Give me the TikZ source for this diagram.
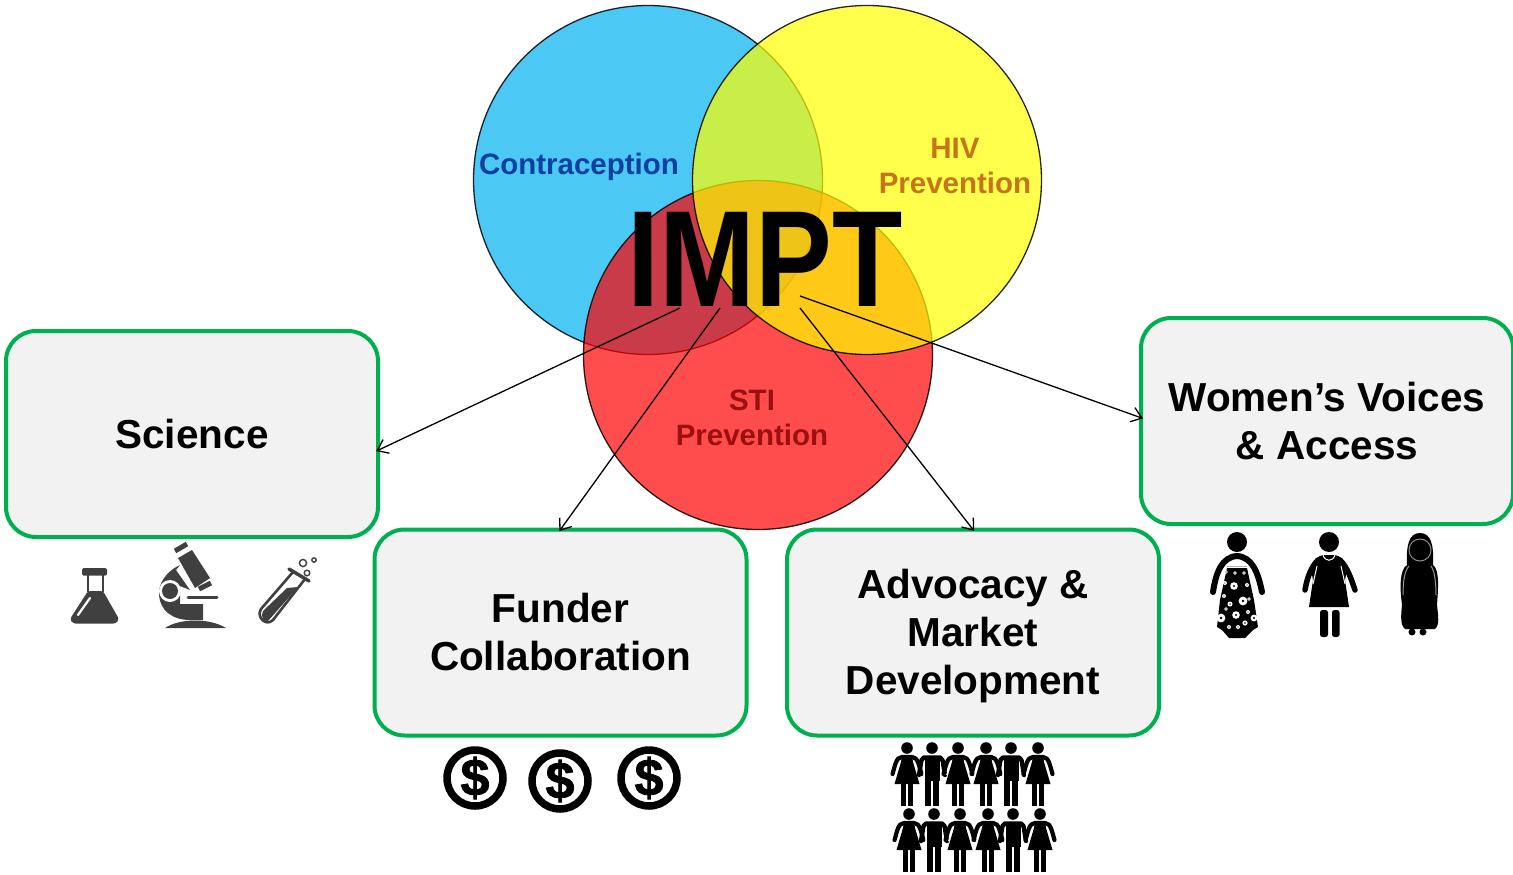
\documentclass[tikz,border=0pt]{standalone}
\usepackage{fontspec}
\setmainfont{Liberation Sans}
\usetikzlibrary{calc,arrows.meta}
\definecolor{cblue}{HTML}{00B0F0}
\definecolor{cyel}{HTML}{FFFF00}
\definecolor{cred}{HTML}{FF0000}
\definecolor{cgreen}{HTML}{00B050}
\definecolor{cbox}{HTML}{F2F2F2}
\definecolor{cicon}{HTML}{404040}
\definecolor{tblue}{HTML}{0F3F9F}
\definecolor{torange}{HTML}{C8741A}
\definecolor{tred}{HTML}{9C1010}
\tikzset{
  venn/.style={circle,minimum size=349pt,inner sep=0pt,outer sep=0pt,draw=black,line width=1.3pt,fill opacity=.7,draw opacity=.85},
  stage/.style={draw=cgreen,line width=4pt,fill=cbox,rounded corners=30pt,minimum width=372pt,minimum height=206pt,inner sep=0pt,outer sep=0pt,align=center,font=\fontsize{40.5}{48}\selectfont\bfseries},
  venntext/.style={font=\fontsize{29.5}{35}\selectfont\bfseries,align=center,inner sep=0pt},
  link/.style={draw=black,line width=1.3pt,shorten >=-2pt,-{Straight Barb[length=10pt,width=15pt]}},
  dollar/.style={circle,draw=black,line width=7.5pt,minimum size=56pt,inner sep=0pt,fill=white,font=\fontsize{52}{52}\selectfont\bfseries},
}
\newcommand{\heavy}[1]{{\addfontfeature{FakeBold=1.5}#1}}
\newcommand{\crowdwoman}[2]{\begin{scope}[shift={(#1,#2)}]
  \fill (0,0) circle (5.8);
  \draw[line width=4.2pt,line cap=round,line join=round] (-14.5,26)..controls (-12,18) and (-11,9)..(-5,9)--(5,9)..controls (11,9) and (12,18)..(14.5,26);
  \draw[white,line width=.9pt] (-6.5,14)--(-11.5,27) (6.5,14)--(11.5,27);
  \fill (-5,8)--(5,8)--(6,14)--(12.5,36)--(-12.5,36)--(-6,14)--cycle;
  \fill (-6,34) rectangle (-1,58);\fill (1,34) rectangle (6,58);
\end{scope}}
\newcommand{\crowdman}[2]{\begin{scope}[shift={(#1,#2)}]
  \fill (0,0) circle (5.8);
  \draw[line width=4.4pt,line cap=round,line join=round] (-13,27)--(-10.5,12)--(-8,9.5)--(8,9.5)--(10.5,12)--(13,27);
  \draw[white,line width=.9pt] (-7.8,14)--(-8.2,32) (7.8,14)--(8.2,32);
  \fill (-7.5,8)--(7.5,8)--(7.5,33)--(-7.5,33)--cycle;
  \fill (-7,30) rectangle (-1,58);\fill (1,30) rectangle (7,58);
\end{scope}}
\newcommand{\crowdrow}[1]{\begin{scope}[shift={(#1)}]
  \crowdwoman{907}{748}\crowdman{932}{748}\crowdwoman{958}{748}\crowdwoman{986}{748}\crowdman{1011}{748}\crowdwoman{1038}{748}
\end{scope}}
\begin{document}
\begin{tikzpicture}[x=1pt,y=-1pt]
\useasboundingbox (0,0) rectangle (1513,875);
% Venn
\node[venn,fill=cblue] (blue) at (648,180) {};
\node[venn,fill=cred] (redc) at (758,355) {};
\node[venn,fill=cyel] (yel) at (867,180) {};
\node[inner sep=0pt] (impt) at (765,259) {\scalebox{.84}[1]{\fontsize{137}{137}\selectfont\bfseries IMPT}};
\node[venntext,text=tblue] (t1) at (579,167) {Contraception};
\node[venntext,text=torange] (t2) at (955,166) {HIV\\Prevention};
\node[venntext,text=tred] (t3) at (752,418) {STI\\Prevention};
% boxes
\node[stage] (science) at (192,434) {Science};
\node[stage] (funder) at (560.5,632.5) {Funder\\Collaboration};
\node[stage] (advocacy) at (973,632.5) {\rule{0pt}{36pt}Advocacy \&\\Market\\Development};
\node[stage] (women) at (1327,421) {Women’s Voices\\\& Access};
% connectors
\coordinate (s1) at (680,308);
\coordinate (s2) at (720,308);
\coordinate (s3) at (800,308);
\coordinate (s4) at (800,296);
\draw[link] (s1) -- (science.-5);
\draw[link] (s2) -- (funder.north);
\draw[link] (s3) -- (advocacy.north);
\draw[link] (s4) -- (women.179);
% flask
\fill[cicon,rounded corners=1.5pt] (82,568) rectangle (107,575.5);
\draw[cicon,line width=2pt] (88,575)--(88,592) (103,575)--(103,592);
\fill[cicon,rounded corners=2.5pt] (88,591)--(103,591)--(119,619)--(116,623.5)--(73,623.5)--(70,619)--cycle;
\draw[white,line width=2.2pt,line cap=round] (90,598)--(78,615);
% microscope
\draw[cicon,line width=5pt] (175,551)--(187,544);
\fill[cicon] (178,558)--(192,550)--(210,578)--(195,588)--cycle;
\draw[cicon,line width=5pt] (199,589)--(211,583);
\fill[cicon] (180,565)..controls (165,572) and (158,585)..(159,595)..controls (160,610) and (172,620)..(190,620)--(203,620)--(203,604)--(180,604)--(180,586)--(190,590)--(176,570)--cycle;
\fill[white] (170,591) circle (11);
\fill[cicon] (170,591) circle (8);
\draw[white,line width=2pt] (181,596)--(218,596);
\draw[cicon,line width=3pt,line cap=round] (188,597.5)--(217,597.5);
\fill[cicon] (165,628) .. controls (180,618) and (210,618) .. (226,628) -- cycle;
% tube
\draw[cicon,line width=3.5pt,line cap=round] (289,569)--(309,581);
\draw[cicon,line width=2.6pt,line join=round] (293,572)--(261,609) .. controls (256,617) and (266,627) .. (273,620)--(305,579);
\fill[cicon] (287,588)--(298,587)--(268,621)..controls (264,622) and (260,617) ..(263,611)--cycle;
\draw[cicon,line width=1.4pt] (303,563) circle (3.6) (314,560) circle (2.2);
\draw[cicon,line width=1.4pt] (307,573) circle (2.8);
% dollars
\node[dollar] (d1) at (475,778) {\heavy{\$}};
\node[dollar] (d2) at (560,781) {\heavy{\$}};
\node[dollar] (d3) at (649,778) {\heavy{\$}};
% crowd
\crowdrow{0,0}
\crowdrow{2,66}
% woman 1
\fill (1237,542) circle (10);
\draw[line width=6pt,line cap=round] (1213,592)..controls (1216,572) and (1222,557) ..(1237,556)..controls (1252,557) and (1258,572)..(1262,592);
\fill (1227,568)--(1247,568)--(1254,600)--(1258,627)--(1253,630)--(1245,638)--(1229,638)--(1222,630)--(1217,627)--(1220,600)--cycle;
\draw[white!70!black,line width=1pt] (1227,566.5)--(1247,566.5);
\foreach \fx/\fy/\fr in {1226/572/1.8,1235/573/1.8,1244/573/1.8,1234/586/3.8,1247/585/2,1225/583/2,1249/599/1.8,1243/601/4.4,1230/604/2.5,1224/596/2,1221/618/4.4,1236/615/3.8,1254/618/3.4,1229/627/2,1238/627/2,1245/623/2.6,1248/612/2,1226/609/1.8}
  {\fill[white] (\fx,\fy) circle (\fr);\fill (\fx,\fy) circle (\fr*.3);}
% woman 2
\fill (1329,542) circle (10);
\fill (1323,555) -- (1335,555) .. controls (1345,557) and (1348,568) .. (1345,580)--(1349,607)--(1309,607)--(1313,580)..controls (1310,568) and (1313,557) ..(1323,555)--cycle;
\draw[line width=5.5pt,line cap=round] (1318,560)..controls (1311,567) and (1307,578)..(1305,590);
\draw[line width=5.5pt,line cap=round] (1340,560)..controls (1347,567) and (1351,578)..(1355,590);
\draw[white,line width=1pt] (1313,584)--(1317,566) (1345,584)--(1341,566);
\draw[white,line width=1pt] (1323,555)..controls (1325,562) and (1333,562)..(1335,555);
\fill[rounded corners=2.5pt] (1320,610) rectangle (1328,637);
\fill[rounded corners=2.5pt] (1332,610) rectangle (1339.5,637);
% woman 3
\fill (1420,533)..controls (1431,533) and (1434,545) ..(1433,565)..controls (1440,570) and (1438,590) ..(1437,605)..controls (1438,615) and (1440,625) ..(1435,629)--(1405,629)..controls (1400,625) and (1401,615) ..(1402,605)..controls (1400,590) and (1399,570) ..(1407,565)..controls (1406,545) and (1409,533) ..(1420,533)--cycle;
\fill (1412,632) circle (3.5) (1423,632) circle (3.5);
\draw[white!55!black,line width=1pt] (1420,550) circle (11);
\draw[white!60!black,line width=1pt] (1403,595)..controls (1403,580) and (1405,570) ..(1409,566);
\draw[white!60!black,line width=1pt] (1436,595)..controls (1436,580) and (1434,570) ..(1431,566);
\end{tikzpicture}
\end{document}
